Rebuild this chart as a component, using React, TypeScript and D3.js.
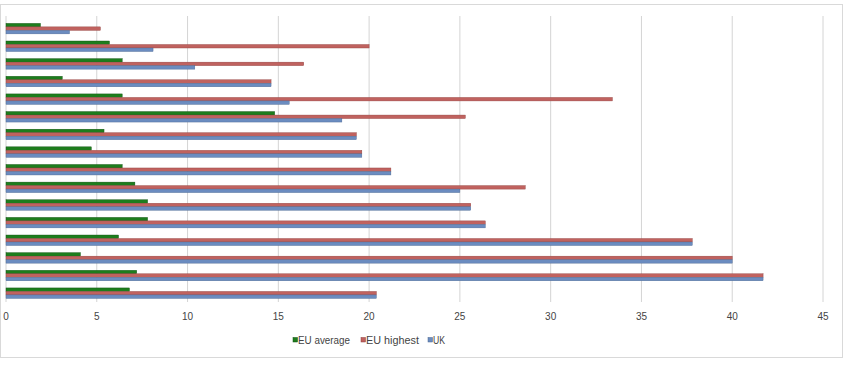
import React from "react";
import * as d3 from "d3";

const categories = ["C1","C2","C3","C4","C5","C6","C7","C8","C9","C10","C11","C12","C13","C14","C15","C16"];
const euAverage = [1.9, 5.7, 6.4, 3.1, 6.4, 14.8, 5.4, 4.7, 6.4, 7.1, 7.8, 7.8, 6.2, 4.1, 7.2, 6.8];
const euHighest = [5.2, 20.0, 16.4, 14.6, 33.4, 25.3, 19.3, 19.6, 21.2, 28.6, 25.6, 26.4, 37.8, 40.0, 41.7, 20.4];
const uk = [3.5, 8.1, 10.4, 14.6, 15.6, 18.5, 19.3, 19.6, 21.2, 25.0, 25.6, 26.4, 37.8, 40.0, 41.7, 20.4];
const xTicks = [0, 5, 10, 15, 20, 25, 30, 35, 40, 45];
const seriesNames = ["EU average", "EU highest", "UK"];
const seriesColors = ["#1d7d1d", "#c0625f", "#6b8cc0"];
const seriesStroke = ["#0f4f0f", "#8f3f3d", "#4a6690"];

export default function App() {
  const W = 850, H = 368;
  const x = d3.scaleLinear().domain([0, 45]).range([6, 823]);
  const y = d3.scaleBand().domain(categories).range([19.8, 302]).paddingInner(0).paddingOuter(0);
  const series = [euAverage, euHighest, uk];
  const barH = 3.5;
  const groupH = barH * 3;
  const font = "'Liberation Sans Narrow', 'Liberation Sans', Arial, sans-serif";
  const legendX = [293, 361, 428];
  const legendLen = [52, 53, 12];
  return (
    <svg width={W} height={H} style={{ position: "absolute", left: 0, top: 0, background: "#fff" }}>
      <rect x={0.5} y={4.5} width={842} height={353} fill="#fff" stroke="#d9d9d9" />
      {xTicks.map((t) => (
        <line key={"g" + t} x1={x(t)} x2={x(t)} y1={16} y2={302} stroke="#d4d4d4" strokeWidth={1} />
      ))}
      {categories.map((c, i) => {
        const y0 = (y(c) as number) + (y.bandwidth() - groupH) / 2;
        return (
          <g key={c}>
            {series.map((s, k) => (
              <rect
                key={k}
                x={x(0)}
                y={y0 + k * barH}
                width={x(s[i]) - x(0)}
                height={barH}
                fill={seriesColors[k]}
                stroke={seriesStroke[k]}
                strokeWidth={0.4}
              />
            ))}
          </g>
        );
      })}
      {xTicks.map((t) => (
        <text key={"t" + t} x={x(t)} y={320} fontSize={10} fill="#444" textAnchor="middle" fontFamily={font}>
          {t}
        </text>
      ))}
      {seriesNames.map((n, k) => (
        <g key={n}>
          <rect x={legendX[k]} y={337.5} width={4.5} height={4.5} fill={seriesColors[k]} stroke={seriesStroke[k]} strokeWidth={0.5} />
          <text
            x={legendX[k] + 5}
            y={344}
            fontSize={10}
            fill="#444"
            fontFamily={font}
            textLength={legendLen[k]}
            lengthAdjust="spacingAndGlyphs"
          >
            {n}
          </text>
        </g>
      ))}
    </svg>
  );
}
